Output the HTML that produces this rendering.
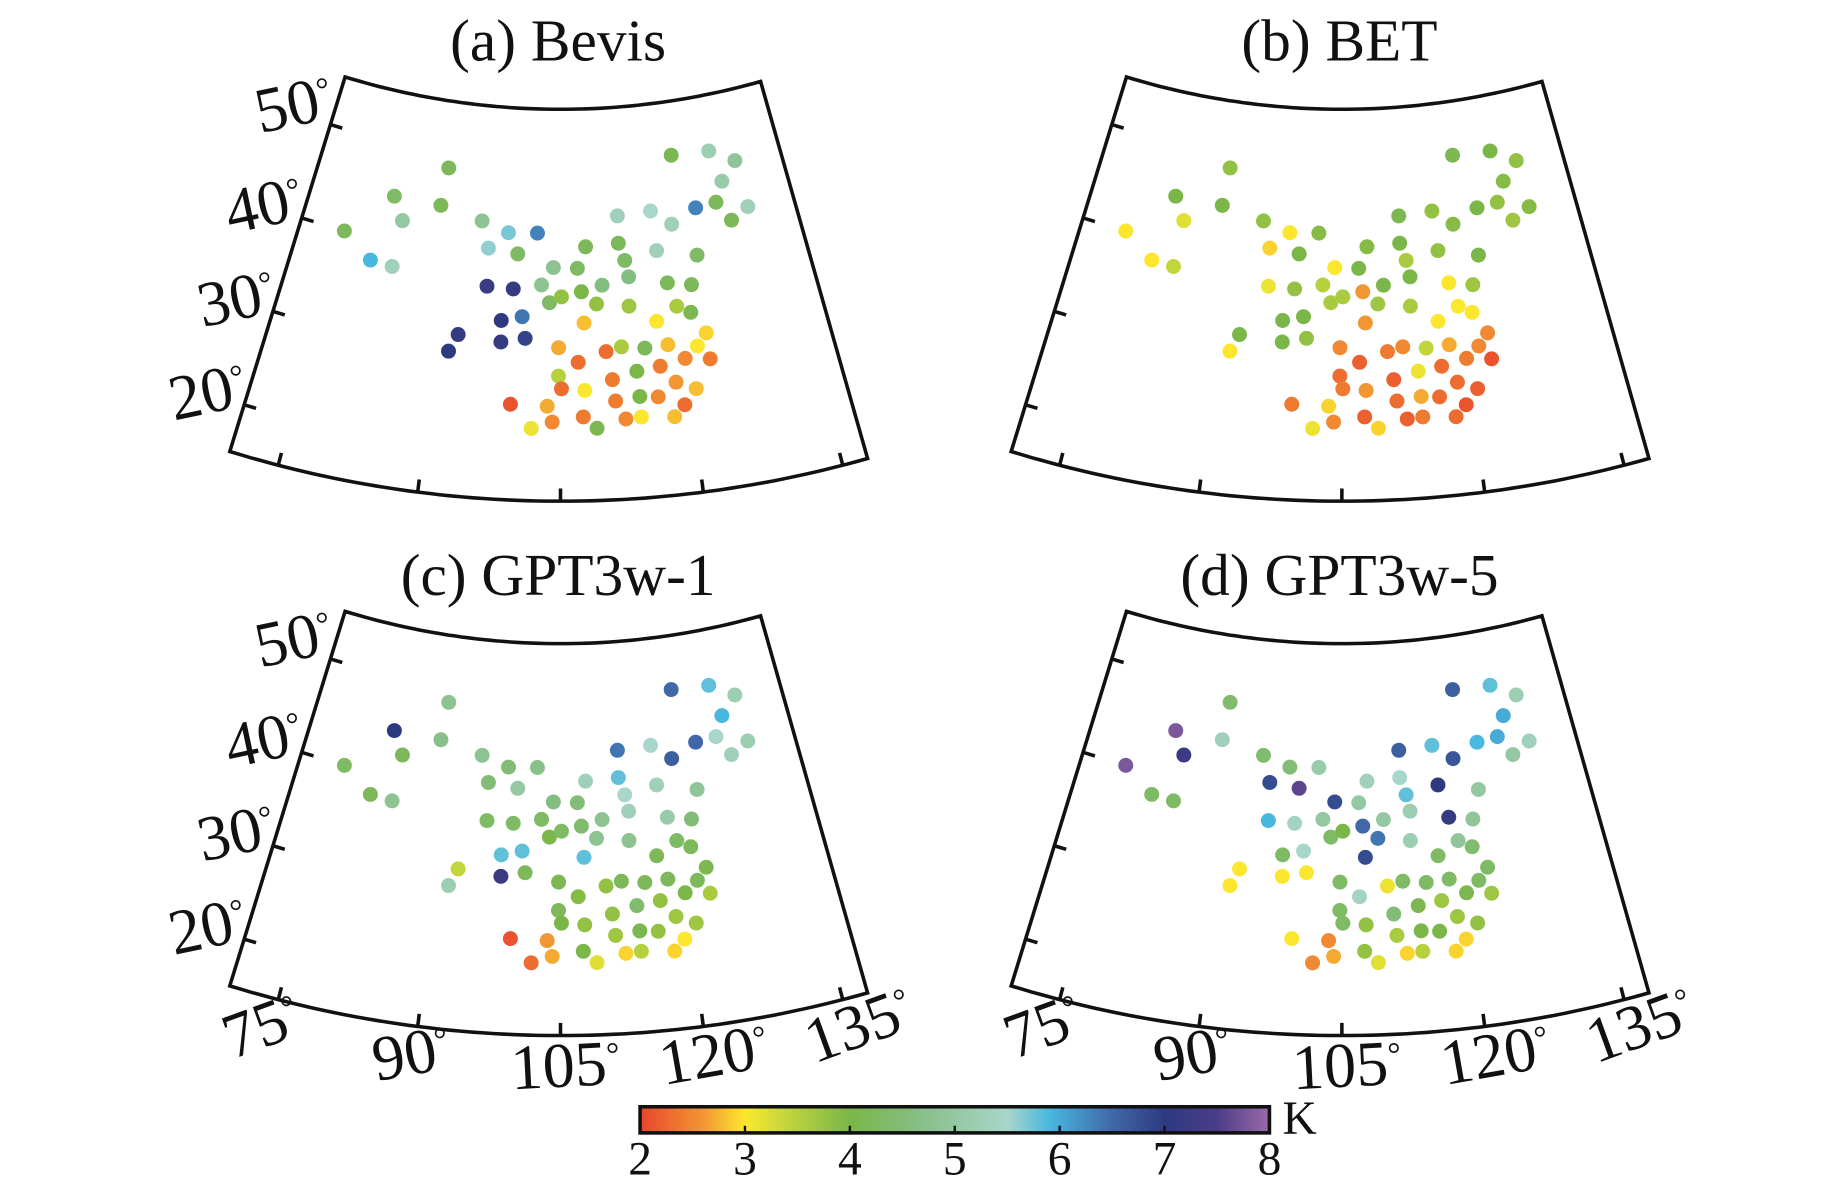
<!DOCTYPE html>
<html><head><meta charset="utf-8"><style>
html,body{margin:0;padding:0;background:#fff;}
svg{display:block;}
text{font-family:"Liberation Serif",serif;fill:#111;}
</style></head><body>
<svg id="chart" width="1843" height="1181" viewBox="0 0 1552 994.5" xmlns="http://www.w3.org/2000/svg">
<defs><linearGradient id="cbgrad" x1="0" x2="1" y1="0" y2="0"></linearGradient></defs>
</svg>
<script>
const lons=[80.1,83.7,86.2,84.9,86.4,90.9,90.6,95.7,96.7,98.9,102.3,100.1,96.9,99.8,102.9,104.2,106.9,107.9,103.8,105.1,107.3,109.6,112.3,111.7,111.8,115.8,116.0,118.1,121.2,119.2,124.0,127.0,124.9,123.7,125.1,127.3,120.5,116.8,119.4,112.6,108.9,107.5,112.4,115.2,117.5,118.9,120.2,100.9,98.7,98.8,101.3,94.3,93.5,104.8,106.8,109.7,111.3,113.7,116.1,119.1,120.2,117.7,104.8,105.1,107.4,110.2,112.7,115.1,116.5,118.4,100.1,103.7,104.2,107.2,110.4,112.8,114.6,117.1,102.2,108.5,111.3,112.8,116.0];
const lats=[39.9,37.6,37.4,44.5,42.2,48.3,44.4,43.3,40.6,42.3,42.4,40.2,36.7,36.6,37.1,38.9,38.8,41.0,35.3,35.9,36.4,37.0,39.4,41.2,44.0,44.2,40.1,42.6,43.9,49.6,49.4,47.9,46.1,44.1,42.0,43.0,39.1,36.7,36.2,37.7,35.1,33.2,34.7,32.9,34.2,33.4,31.1,33.8,33.3,31.1,31.6,31.5,29.7,30.7,29.2,30.2,30.6,30.3,30.4,29.9,28.4,28.8,27.8,26.5,26.3,27.3,28.0,28.3,26.5,25.6,24.8,24.7,23.1,23.6,25.1,25.4,25.2,24.1,22.4,22.4,23.2,23.3,23.0];
const valsBevis=[4.2,5.9,5.3,4.3,5.0,4.2,4.2,4.8,5.6,5.7,6.3,4.3,7.2,7.1,4.8,4.8,4.3,4.2,4.3,3.8,4.0,4.6,4.3,4.2,5.3,5.5,5.3,5.3,6.3,4.1,5.2,4.9,5.1,4.2,4.2,5.3,4.3,4.2,4.2,4.6,3.8,2.8,3.7,3.0,3.6,4.1,2.9,6.4,7.0,7.1,6.9,7.1,7.0,2.7,2.3,2.3,3.6,4.2,2.8,3.0,2.4,2.5,3.5,2.3,3.0,2.4,4.0,2.4,2.6,2.8,2.1,2.7,2.5,2.4,2.4,4.0,2.5,2.3,3.1,4.1,2.5,3.0,2.8];
const valsBET=[3.0,3.0,3.4,4.0,3.2,3.8,4.0,3.8,2.9,3.0,3.9,4.0,3.1,3.8,3.5,3.0,4.0,3.9,3.6,3.6,2.6,4.0,3.6,4.0,4.1,3.8,3.8,3.9,4.0,4.1,4.0,3.8,3.9,3.8,3.7,3.9,4.0,3.0,3.7,4.0,3.7,2.6,3.6,3.0,3.0,3.0,2.5,4.0,4.0,4.0,3.8,4.0,3.0,2.5,2.2,2.4,2.5,3.4,2.7,2.5,2.1,2.4,2.3,2.4,2.6,2.2,3.1,2.3,2.3,2.2,2.4,2.9,2.5,2.2,2.3,2.7,2.3,2.1,3.1,2.9,2.2,2.4,2.3];
const valsGPT1=[4.3,4.2,4.8,7.0,4.2,4.8,4.7,4.8,4.5,4.5,4.7,5.0,4.3,4.3,4.3,4.6,4.5,5.3,4.0,4.3,4.4,4.8,5.5,5.8,6.4,5.5,5.3,6.6,6.5,6.5,5.8,5.2,5.9,5.5,5.3,5.2,4.9,5.1,4.5,5.3,4.8,5.8,4.8,4.2,4.3,4.2,4.1,5.8,5.8,7.2,4.2,3.4,5.2,4.1,3.9,3.8,4.2,4.2,4.2,4.2,3.6,4.0,4.2,4.0,3.8,3.8,4.4,3.8,3.7,3.7,2.1,2.6,2.7,4.0,3.7,4.1,3.8,3.0,2.3,3.2,2.9,3.5,2.9];
const valsGPT5=[7.8,4.3,4.3,7.8,7.2,4.4,5.3,4.4,6.8,4.5,5.1,7.6,5.9,5.4,5.0,6.8,5.0,5.3,4.3,4.0,6.5,5.0,5.8,5.5,6.6,5.8,7.0,6.7,5.9,6.6,5.8,5.2,6.0,6.0,5.0,5.3,5.0,7.1,4.9,5.2,6.4,6.8,5.2,4.3,4.9,4.4,4.3,5.5,4.3,3.0,3.0,3.0,3.0,4.3,5.4,3.1,4.3,4.3,4.3,4.3,3.7,4.1,4.3,4.3,3.8,4.5,4.1,3.7,3.7,3.8,3.0,2.5,2.7,3.8,3.6,4.0,4.0,2.9,2.5,3.2,2.9,3.5,2.9];
const panelTitles=["(a) Bevis","(b) BET","(c) GPT3w-1","(d) GPT3w-5"];
const latTicks=[50,40,30,20];
const lonTickLabels=["75","90","105","120","135"];
const cbTicks=[2,3,4,5,6,7,8];

const stops=[[2,'#e8452c'],[2.6,'#f29633'],[3.0,'#fce72e'],[3.4,'#c2d63c'],[4.0,'#7ab648'],[4.6,'#84bd80'],[5.0,'#94c8a2'],[5.5,'#a9d6ca'],[5.9,'#48b8e0'],[6.5,'#4068a8'],[7.0,'#2e3a80'],[7.5,'#4b3d87'],[8,'#9b6aa9']];
function hex(c){return [parseInt(c.substr(1,2),16),parseInt(c.substr(3,2),16),parseInt(c.substr(5,2),16)];}
function color(v){
  v=Math.max(2,Math.min(8,v));
  for(let i=0;i<stops.length-1;i++){const a=stops[i],b=stops[i+1];
    if(v<=b[0]){const t=(v-a[0])/(b[0]-a[0]);const ca=hex(a[1]),cb=hex(b[1]);
      return 'rgb('+ca.map((x,k)=>Math.round(x+(cb[k]-x)*t)).join(',')+')';}}
  return stops[stops.length-1][1];
}
const NS='http://www.w3.org/2000/svg';
const svg=document.getElementById('chart');
function el(tag,attrs,parent){const e=document.createElementNS(NS,tag);for(const k in attrs)e.setAttribute(k,attrs[k]);(parent||svg).appendChild(e);return e;}
const AX=472,AY=-525,N=0.57;
function rad(lat){return 659+(50-lat)*8.23;}
function proj(lon,lat,ox,oy){const r=rad(lat),a=N*(lon-105)*Math.PI/180;return [ox+AX+r*Math.sin(a),oy+AY+r*Math.cos(a)];}
const offs=[[0,0],[658,0],[0,450],[658,450]];
const vals=[valsBevis,valsBET,valsGPT1,valsGPT5];
const LATMIN=15,LATMAX=55.1,LONMIN=75,LONMAX=132.8;
const latLabelOff=[[-31,-17],[-32,-11],[-31,-11],[-31,-11]];
const lonLabelPos=[[220,864,-20],[346,887,-10],[476,897,-3],[601,888,-10],[723,863,-20]];
function degLabel(g,cx,cy,rot,str,name){
  const tx=el('text',{x:cx,y:cy+18,'font-size':54,'text-anchor':'middle',transform:'rotate('+rot+' '+cx+' '+cy+')'},g);
  tx.textContent=str;
  const ts=el('tspan',{'font-size':28,dy:-16},tx);ts.textContent='°';
  
  
}
for(let p=0;p<4;p++){
  const [ox,oy]=offs[p];
  const g=el('g',{});
  
  
  const t=el('text',{x:ox+470,y:oy+51,'font-size':50,'text-anchor':'middle'},g);
  t.textContent=panelTitles[p];
  
  
  let d='';
  const steps=60;
  for(let s=0;s<=steps;s++){const lon=LONMIN+(LONMAX-LONMIN)*s/steps;const q=proj(lon,LATMAX,ox,oy);d+=(d?'L':'M')+q[0].toFixed(1)+' '+q[1].toFixed(1);}
  for(let s=steps;s>=0;s--){const lon=LONMIN+(LONMAX-LONMIN)*s/steps;const q=proj(lon,LATMIN,ox,oy);d+='L'+q[0].toFixed(1)+' '+q[1].toFixed(1);}
  d+='Z';
  const fr=el('path',{d:d,fill:'none',stroke:'#111','stroke-width':3,'stroke-linejoin':'miter'},g);
  
  
  latTicks.forEach((lt,i)=>{
    const q=proj(LONMIN,lt,ox,oy);
    const tk=el('line',{x1:q[0],y1:q[1],x2:q[0]+10,y2:q[1]+3,stroke:'#111','stroke-width':3},g);
    
    
    if(p===0||p===2){
      degLabel(g,q[0]+latLabelOff[i][0],q[1]+latLabelOff[i][1],-12,String(lt),'lat-label');
    }
  });
  const tickLons=[79.5,92.2,105,117.8,130.5];
  tickLons.forEach((ln,i)=>{
    const a=proj(ln,LATMIN,ox,oy),b=proj(ln,LATMIN+1.3,ox,oy);
    const tk=el('line',{x1:a[0],y1:a[1],x2:b[0],y2:b[1],stroke:'#111','stroke-width':3},g);
    
    
    if(p>=2){
      const pos=lonLabelPos[i];
      degLabel(g,ox+pos[0],pos[1],pos[2],lonTickLabels[i],'lon-label');
    }
  });
  for(let i=0;i<lons.length;i++){
    const q=proj(lons[i],lats[i],ox,oy);
    const c=el('circle',{cx:q[0].toFixed(1),cy:q[1].toFixed(1),r:6.3,fill:color(vals[p][i])},g);
    
    
  }
}
const grad=document.getElementById('cbgrad');
stops.forEach(s=>{el('stop',{offset:((s[0]-2)/6*100)+'%','stop-color':s[1]},grad);});
const CBX0=539,CBX1=1069,CBY0=932,CBY1=954;
function cbx(v){return CBX0+(v-2)/6*(CBX1-CBX0);}
const cb=el('rect',{x:CBX0,y:CBY0,width:CBX1-CBX0,height:CBY1-CBY0,fill:'url(#cbgrad)',stroke:'#111','stroke-width':3});


cbTicks.forEach(v=>{
  if(v>2&&v<8){const l=el('line',{x1:cbx(v),x2:cbx(v),y1:CBY1,y2:CBY1-6,stroke:'#111','stroke-width':2});
    
    }
  const t=el('text',{x:cbx(v),y:989,'font-size':40,'text-anchor':'middle'});
  t.textContent=v;
  
  
});
const k=el('text',{x:1080,y:955,'font-size':40});
k.textContent='K';


</script>
</body></html>
